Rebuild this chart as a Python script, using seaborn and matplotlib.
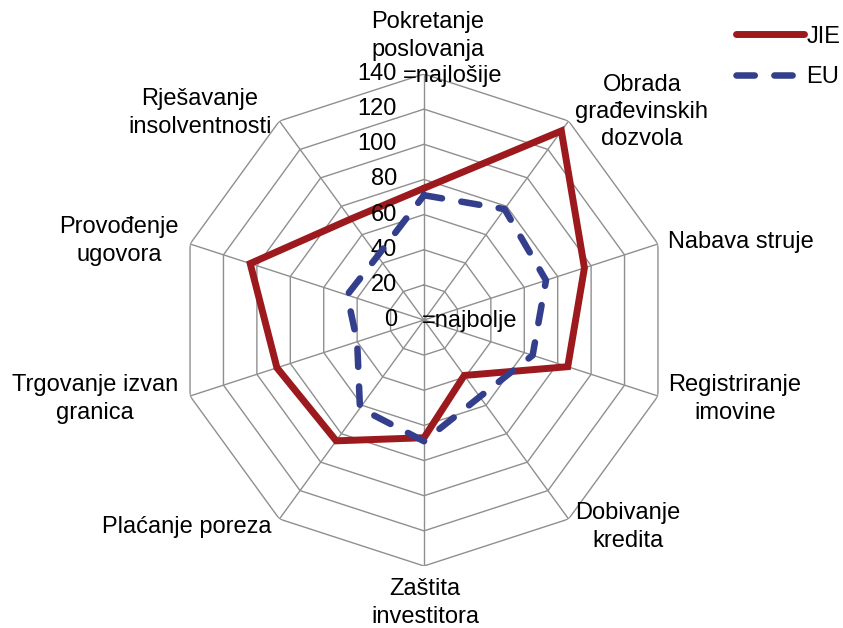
import numpy as np
import pandas as pd
import matplotlib
matplotlib.use('Agg')
import matplotlib.pyplot as plt
import seaborn as sns

# kategorije (redom, u smjeru kazaljke na satu od vrha)
kategorije = ['Pokretanje\nposlovanja', 'Obrada\ngrađevinskih\ndozvola', 'Nabava struje',
              'Registriranje\nimovine', 'Dobivanje\nkredita', 'Zaštita\ninvestitora',
              'Plaćanje poreza', 'Trgovanje izvan\ngranica', 'Provođenje\nugovora',
              'Rješavanje\ninsolventnosti']
jie = [75, 133, 96, 86, 39, 67, 85, 88, 104, 71]
eu = [71, 78, 73, 65, 54, 69, 62, 40, 46, 45]
razine = [0, 20, 40, 60, 80, 100, 120, 140]

sns.set_style('white')
plt.rcParams['font.family'] = ['Liberation Sans', 'DejaVu Sans']
plt.rcParams['text.color'] = 'black'

W, H = 843, 628
fig = plt.figure(figsize=(W / 100, H / 100), dpi=100)
cx, cy, R = 424, 320, 246
ax = fig.add_axes([(cx - R) / W, (H - cy - R) / H, 2 * R / W, 2 * R / H], projection='polar')
ax.set_theta_offset(np.pi / 2)
ax.set_theta_direction(-1)
ax.set_ylim(0, 140)
ax.set_xticks([])
ax.set_yticks([])
ax.grid(False)
ax.spines['polar'].set_visible(False)
ax.patch.set_alpha(0)

n = len(kategorije)
kutovi = np.linspace(0, 2 * np.pi, n, endpoint=False)
zatvoreno = np.append(kutovi, kutovi[0])

# mreža (poligoni + zrake)
siva = '#8f8f8f'
for r in razine[1:]:
    ax.plot(zatvoreno, [r] * (n + 1), color=siva, lw=1.0, zorder=1)
for a in kutovi:
    ax.plot([a, a], [0, razine[-1]], color=siva, lw=1.0, zorder=1)

df = pd.DataFrame({'kut': np.tile(zatvoreno, 2),
                   'vrijednost': jie + [jie[0]] + eu + [eu[0]],
                   'serija': ['JIE'] * (n + 1) + ['EU'] * (n + 1)})

sns.lineplot(data=df[df.serija == 'JIE'], x='kut', y='vrijednost', sort=False, estimator=None,
             ax=ax, color='#9C1A1E', lw=5.0, label='JIE', zorder=3,
             solid_joinstyle='miter')
sns.lineplot(data=df[df.serija == 'EU'], x='kut', y='vrijednost', sort=False, estimator=None,
             ax=ax, color='#333F8C', lw=4.7, label='EU', zorder=4,
             linestyle=(0, (2.8, 3.0)), dash_capstyle='round')
ax.set_xlabel('')
ax.set_ylabel('')
ax.set_ylim(0, 140)
ax.get_legend().remove()

fs = 17
# oznake osi
for r in razine:
    ax.annotate(str(r), (0, r), xytext=(-27, 0), textcoords='offset pixels',
                ha='right', va='center', fontsize=fs)
ax.annotate('=najlošije', (0, 140), xytext=(-21, -2), textcoords='offset pixels',
            ha='left', va='center', fontsize=fs)
ax.annotate('=najbolje', (0, 0), xytext=(-2, -1), textcoords='offset pixels',
            ha='left', va='center', fontsize=fs)

# nazivi kategorija (pozicije u pikselima)
pozicije = [(428, 36, 'center'), (642, 112, 'center'), (668, 242, 'left'),
            (735, 399, 'center'), (628, 527, 'center'), (425, 603, 'center'),
            (272, 527, 'right'), (95, 399, 'center'), (119, 241, 'center'),
            (200, 113, 'center')]
for tekst, (x, y, ha) in zip(kategorije, pozicije):
    fig.text(x / W, 1 - y / H, tekst, ha=ha, va='center', fontsize=fs,
             multialignment='center', linespacing=1.32)

h, l = ax.get_legend_handles_labels()
fig.legend(h, l, loc='upper right', bbox_to_anchor=(1.0 + 14 / W, 1.0 - 9 / H), frameon=False,
           fontsize=fs, handlelength=2.9, handletextpad=0.1, labelspacing=0.8,
           borderaxespad=0.3)

fig.savefig('out.png', dpi=100)
